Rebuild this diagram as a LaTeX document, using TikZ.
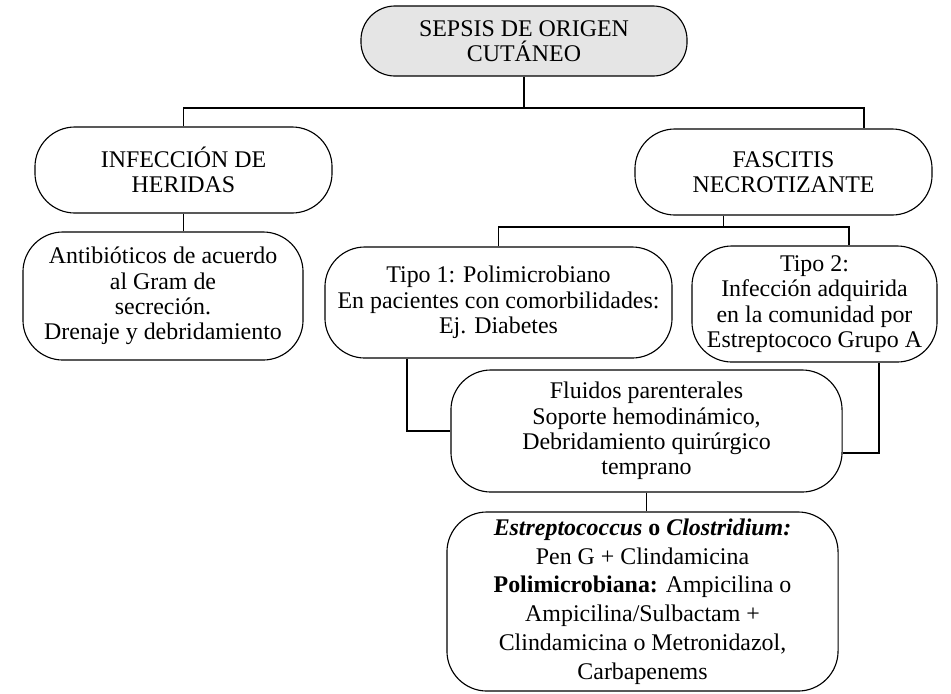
\documentclass[tikz,border=0pt]{standalone}
\usepackage{fontspec}
\setmainfont{Liberation Serif}
\usetikzlibrary{positioning}
\tikzset{
  caja/.style={draw,line width=0.8pt,rounded corners=1cm,align=center,inner sep=2pt,font=\fontsize{17}{18}\selectfont},
  linea/.style={line width=1.4pt}
}

\begin{document}
\begin{tikzpicture}[x=0.025cm,y=-0.025cm]
\useasboundingbox (0,0) rectangle (951,693);

\node[caja,fill=gray!20,rounded corners=0.85cm,minimum width=8.15cm,minimum height=1.75cm] (raiz) at (524,41) {SEPSIS DE ORIGEN\\CUTÁNEO};

\node[caja,minimum width=7.425cm,minimum height=2.15cm] (infeccion) at (183.5,170) {INFECCIÓN DE\\HERIDAS};
\node[caja,minimum width=7.425cm,minimum height=2.15cm] (fascitis) at (783.5,172) {FASCITIS\\NECROTIZANTE};

\node[caja,minimum width=7cm,minimum height=3.2cm] (antibioticos) at (163,296) {Antibióticos de acuerdo\\al Gram de\\secreción.\\Drenaje y debridamiento};
\node[caja,minimum width=8.675cm,minimum height=2.775cm] (tipo1) at (498.5,302.5) {Tipo 1: Polimicrobiano\\En pacientes con comorbilidades:\\Ej. Diabetes};
\node[caja,minimum width=6.125cm,minimum height=2.9cm] (tipo2) at (814.5,304) {Tipo 2:\\Infección adquirida\\en la comunidad por\\Estreptococo Grupo A};

\node[caja,minimum width=9.775cm,minimum height=3.05cm] (fluidos) at (646.5,431) {Fluidos parenterales\\Soporte hemodinámico,\\Debridamiento quirúrgico\\temprano};
\node[caja,font=\fontsize{17}{20.5}\selectfont,minimum width=9.775cm,minimum height=4.475cm] (tratamiento) at (642.5,601.5) {\textbf{\textit{Estreptococcus} o \textit{Clostridium:}}\\Pen G + Clindamicina\\\textbf{Polimicrobiana:} Ampicilina o\\Ampicilina/Sulbactam +\\Clindamicina o Metronidazol,\\Carbapenems};

% conectores
\coordinate (bus1) at (524,108);
\coordinate (bus2) at (724,227);
\draw[linea] (raiz) -- (bus1);
\draw[linea] (infeccion.north) |- (bus1) -| ([xshift=2cm]fascitis.north);
\draw[linea] (infeccion.south) -- (infeccion.south |- antibioticos.north);
\draw[linea] ([xshift=-1.5cm]fascitis.south) -- ([xshift=-1.5cm]fascitis.south |- bus2);
\draw[linea] (tipo1.north) |- (bus2) -| ([xshift=0.86cm]tipo2.north);
\draw[linea] ([xshift=-2.29cm]tipo1.south) |- (fluidos.west);
\draw[linea] ([xshift=1.61cm]tipo2.south) |- ([yshift=-0.55cm]fluidos.east);
\draw[linea] (fluidos.south) -- (fluidos.south |- tratamiento.north);
\end{tikzpicture}
\end{document}
